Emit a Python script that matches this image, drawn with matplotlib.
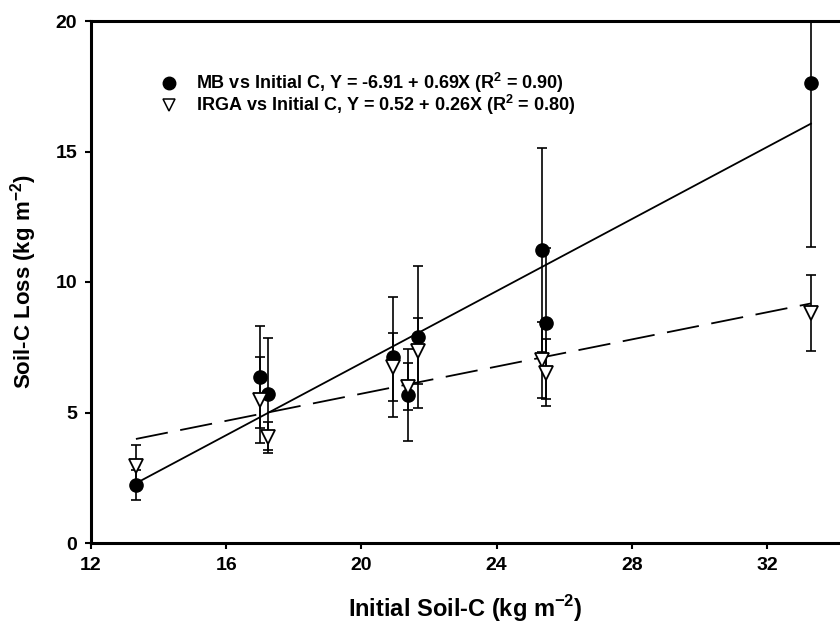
import matplotlib
matplotlib.use('Agg')
import matplotlib.pyplot as plt
from matplotlib.lines import Line2D

# initial soil C (x) for each plot
init_c = [13.33, 17.0, 17.25, 20.94, 21.37, 21.68, 25.33, 25.45, 33.3]

# soil-C loss by mass balance (MB) and by IRGA, with error bars
mb_loss = [2.22, 6.37, 5.71, 7.14, 5.67, 7.90, 11.23, 8.42, 17.64]
mb_err = [0.57, 1.96, 2.16, 2.30, 1.76, 2.72, 3.90, 2.90, 6.29]
irga_loss = [2.96, 5.48, 4.05, 6.73, 5.99, 7.36, 7.00, 6.53, 8.82]
irga_err = [0.79, 1.66, 0.60, 1.30, 0.90, 1.26, 1.46, 1.27, 1.45]

# regression coefficients from the legend
mb_fit = (-6.91, 0.69)
irga_fit = (0.52, 0.26)
fit_x = [13.33, 33.3]

mb_label = 'MB vs Initial C, Y = -6.91 + 0.69X (R$^\\mathbf{2}$ = 0.90)'
irga_label = 'IRGA vs Initial C, Y = 0.52 + 0.26X (R$^\\mathbf{2}$ = 0.80)'

plt.rcParams['font.family'] = ['Liberation Sans', 'DejaVu Sans']
plt.rcParams['mathtext.fontset'] = 'custom'
plt.rcParams['mathtext.bf'] = 'Liberation Sans:bold'
plt.rcParams['mathtext.rm'] = 'Liberation Sans:bold'

fig = plt.figure(figsize=(8.4, 6.25), dpi=100)
ax = fig.add_axes([0.1083, 0.1312, 0.8917, 0.8352])

ax.errorbar(init_c, mb_loss, yerr=mb_err, fmt='none', ecolor='black',
            elinewidth=1.2, capsize=3.5, capthick=1.2, zorder=2)
ax.errorbar(init_c, irga_loss, yerr=irga_err, fmt='none', ecolor='black',
            elinewidth=1.2, capsize=3.5, capthick=1.2, zorder=2)

ax.plot(fit_x, [mb_fit[0] + mb_fit[1] * x for x in fit_x], color='black',
        lw=1.3, zorder=3)
ax.plot(fit_x, [irga_fit[0] + irga_fit[1] * x for x in fit_x], color='black',
        lw=1.3, dashes=(18, 7), zorder=3)

ax.plot(init_c, mb_loss, 'o', color='black', ms=9.5, zorder=4)
ax.plot(init_c, irga_loss, 'v', mfc='white', mec='black', mew=1.3, ms=10,
        zorder=5)

ax.set_xlim(12, 34.16)
ax.set_ylim(0, 20)
ax.set_xticks([12, 16, 20, 24, 28, 32])
ax.set_yticks([0, 5, 10, 15, 20])

for s in ['left', 'bottom', 'top']:
    ax.spines[s].set_linewidth(2.2)
ax.spines['right'].set_visible(False)
ax.tick_params(direction='out', length=4, width=1.5, pad=6)

for lab in ax.get_xticklabels() + ax.get_yticklabels():
    lab.set_fontsize(14)
    lab.set_fontweight('bold')

ax.set_xlabel('Initial Soil-C (kg m$^{\\mathbf{-2}}$)', fontsize=17,
              fontweight='bold', labelpad=14)
ax.set_ylabel('Soil-C Loss (kg m$^{\\mathbf{-2}}$)', fontsize=16,
              fontweight='bold', labelpad=12)

handles = [Line2D([], [], ls='none', marker='o', color='black', ms=9),
           Line2D([], [], ls='none', marker='v', mfc='white', mec='black',
                  mew=1.1, ms=8)]
ax.legend(handles, [mb_label, irga_label], loc='upper left',
          bbox_to_anchor=(0.07, 0.935), frameon=False,
          prop={'weight': 'bold', 'size': 13}, handlelength=1.0,
          handletextpad=1.0, labelspacing=-0.12)

fig.savefig('out.png', dpi=100)
plt.close(fig)
